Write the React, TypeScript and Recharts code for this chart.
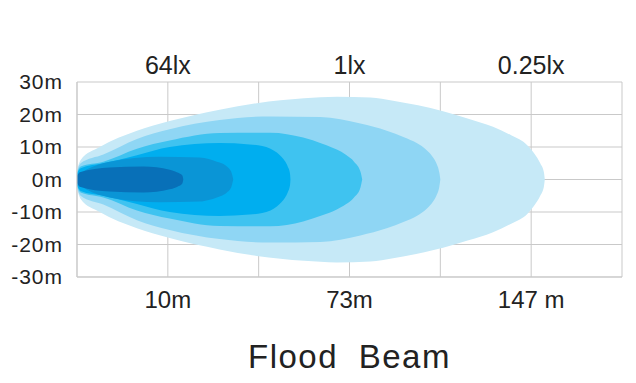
import { Area, CartesianGrid, ComposedChart, XAxis, YAxis } from "recharts";

// grid columns (0..6) and metre ticks
const gridTicks = [0, 1, 2, 3, 4, 5, 6];
const yTicks = [-30, -20, -10, 0, 10, 20, 30];
const distanceLabels = ["", "10m", "", "73m", "", "147 m", ""];
const luxLabels = ["", "64lx", "", "1lx", "", "0.25lx", ""];

// half-widths of each iso-lux zone (m) along the beam, x in grid columns
const haloU = [0, 0.04, 0.25, 0.66, 1.02, 1.57, 1.98, 2.5, 2.86, 3.23, 3.48, 4.03, 4.3, 4.58, 4.78, 4.96, 5.04, 5.1, 5.14, 5.15];
const haloH = [3, 6, 10, 15, 18, 21.5, 23.5, 25, 25.5, 25.2, 24.2, 21, 18.8, 16.2, 13.6, 10.5, 7.8, 5, 2.2, 0];

const outerU = [0, 0.04, 0.29, 0.66, 1.02, 1.57, 2.13, 2.68, 3.12, 3.41, 3.6, 3.74, 3.85, 3.92, 3.96, 3.99, 4.0];
const outerH = [2.5, 5, 7.7, 12.5, 15.5, 18.3, 19.4, 19.2, 17.2, 15, 13, 11.2, 9, 6.8, 4.8, 2, 0];

const midU = [0, 0.04, 0.29, 0.66, 1.02, 1.57, 2.13, 2.49, 2.7, 2.86, 2.96, 3.05, 3.12, 3.14];
const midH = [2, 4, 5.5, 9.5, 12, 14.3, 14.4, 12.9, 11, 9.2, 7.6, 5.5, 2.5, 0];

const innerU = [0, 0.04, 0.29, 0.66, 1.02, 1.57, 1.9, 2.13, 2.2, 2.25, 2.29, 2.32, 2.345, 2.35];
const innerH = [1.8, 3.5, 5, 7.5, 10, 11.2, 10.8, 9.5, 8.3, 7, 5.6, 4, 1.8, 0];

const brightU = [0, 0.1, 0.36, 0.91, 1.35, 1.45, 1.54, 1.6, 1.65, 1.7, 1.72];
const brightH = [1.2, 3, 5.5, 7, 6.8, 6.3, 5.5, 4.9, 4, 2.2, 0];

const coreU = [0, 0.03, 0.36, 0.73, 1.02, 1.08, 1.12, 1.16, 1.17];
const coreH = [1, 2.2, 3.7, 4, 3, 2.5, 2, 1.2, 0];

const zones = [
    { key: "halo", u: haloU, h: haloH, color: "#c6e9f7" },
    { key: "outer", u: outerU, h: outerH, color: "#8fd6f4" },
    { key: "mid", u: midU, h: midH, color: "#3fc3f0" },
    { key: "inner", u: innerU, h: innerH, color: "#00aeef" },
    { key: "bright", u: brightU, h: brightH, color: "#0a95d6" },
    { key: "core", u: coreU, h: coreH, color: "#0870b8" },
];

const rows = zones
    .flatMap((z) => z.u.map((u, i) => ({ u, [z.key]: [-z.h[i], z.h[i]] })))
    .sort((a, b) => a.u - b.u);

const font = "'Liberation Sans', Arial, sans-serif";
const gridColor = "#c9c9c9";

export default function App() {
    return (
        <div style={{ position: "absolute", left: 0, top: 0, width: 636, height: 383, background: "#fff" }}>
            <ComposedChart
                width={636}
                height={383}
                data={rows}
                margin={{ top: 42, right: 14, bottom: 66, left: 0 }}
            >
                <CartesianGrid stroke={gridColor} />
                <XAxis
                    type="number"
                    dataKey="u"
                    domain={[0, 6]}
                    ticks={gridTicks}
                    interval={0}
                    tickFormatter={(v) => distanceLabels[v]}
                    axisLine={{ stroke: gridColor }}
                    tickLine={false}
                    tickSize={6}
                    tickMargin={8}
                    height={40}
                    tick={{ fill: "#222", fontSize: 24, fontFamily: font }}
                />
                <XAxis
                    xAxisId="top"
                    orientation="top"
                    type="number"
                    dataKey="u"
                    domain={[0, 6]}
                    ticks={gridTicks}
                    interval={0}
                    tickFormatter={(v) => luxLabels[v]}
                    axisLine={false}
                    tickLine={false}
                    tickSize={6}
                    tickMargin={2}
                    height={40}
                    tick={{ fill: "#222", fontSize: 25, fontFamily: font }}
                />
                <YAxis
                    type="number"
                    domain={[-30, 30]}
                    ticks={yTicks}
                    interval={0}
                    tickFormatter={(v) => `${v}m`}
                    axisLine={{ stroke: gridColor }}
                    tickLine={false}
                    tickSize={6}
                    tickMargin={8}
                    width={77}
                    tick={{ fill: "#222", fontSize: 21, fontFamily: font, letterSpacing: 1 }}
                />
                {zones.map((z) => (
                    <Area
                        key={z.key}
                        dataKey={z.key}
                        type="monotone"
                        stroke="none"
                        fill={z.color}
                        fillOpacity={1}
                        connectNulls
                        dot={false}
                        activeDot={false}
                        isAnimationActive={false}
                    />
                ))}
            </ComposedChart>
            <div
                style={{
                    position: "absolute",
                    left: 77,
                    top: 340,
                    width: 545,
                    textAlign: "center",
                    fontFamily: font,
                    fontSize: 33,
                    lineHeight: "33px",
                    letterSpacing: 1.5,
                    wordSpacing: 10,
                    color: "#222",
                }}
            >
                Flood Beam
            </div>
        </div>
    );
}
